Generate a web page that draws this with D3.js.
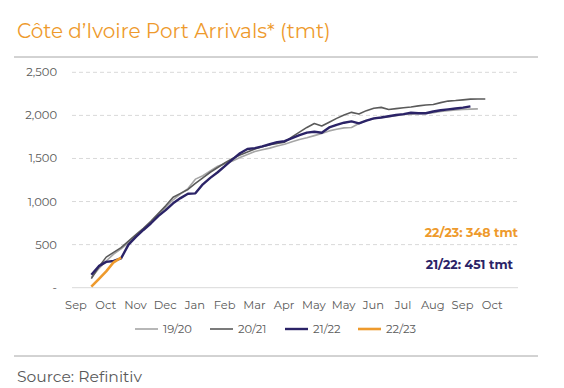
<!DOCTYPE html>
<html>
<head>
<meta charset="utf-8">
<script src="https://cdn.jsdelivr.net/npm/d3@7"></script>
<style>
  body { margin: 0; background: #fff; }
  text { font-family: Montserrat, "Open Sans", sans-serif; }
</style>
</head>
<body>
<svg id="svg" width="564" height="388"></svg>
<script>
// x-axis labels (one every 4 weeks)
const monthLabels = ["Sep", "Oct", "Nov", "Dec", "Jan", "Feb", "Mar", "Apr", "May", "May", "Jun", "Jul", "Aug", "Sep", "Oct"];
const yTicks = [0, 500, 1000, 1500, 2000, 2500];

// cumulative weekly arrivals, tmt
const s1920 = [120, 220, 310, 390, 450, 520, 600, 680, 760, 845, 930, 1020, 1090, 1150, 1260, 1300, 1355, 1410,
  1440, 1470, 1510, 1545, 1580, 1600, 1620, 1645, 1665, 1695, 1720, 1740, 1765, 1790, 1820, 1840, 1855, 1860,
  1905, 1940, 1960, 1975, 1985, 1995, 2010, 2015, 2020, 2023, 2030, 2045, 2053, 2062, 2070, 2073, 2075];
const s2021 = [105, 240, 355, 410, 465, 540, 615, 690, 770, 860, 950, 1050, 1095, 1140, 1210, 1275, 1340, 1395,
  1450, 1500, 1540, 1575, 1610, 1635, 1660, 1675, 1690, 1750, 1805, 1860, 1905, 1876, 1920, 1965, 2005, 2035,
  2015, 2055, 2083, 2093, 2069, 2078, 2088, 2098, 2110, 2120, 2127, 2148, 2166, 2172, 2180, 2189, 2190, 2190];
const s2122 = [150, 250, 300, 310, 340, 500, 590, 670, 745, 830, 900, 980, 1040, 1090, 1095, 1200, 1275, 1340,
  1415, 1490, 1560, 1610, 1620, 1640, 1665, 1690, 1700, 1735, 1770, 1800, 1810, 1798, 1860, 1890, 1915, 1930,
  1907, 1940, 1965, 1975, 1990, 2005, 2015, 2030, 2025, 2025, 2045, 2060, 2070, 2080, 2090, 2105];
const s2223 = [12, 100, 190, 295, 348];

const seriesNames = ["19/20", "20/21", "21/22", "22/23"];
const seriesData = [s1920, s2021, s2122, s2223];
const seriesColors = ["#a6a6a6", "#5a5a5a", "#2b2367", "#ee9a2c"];
const seriesWidths = [1.6, 1.6, 2.4, 2.6];

const annotations = [
  { text: "22/23: 348 tmt", color: "#ee9a2c", y: 237 },
  { text: "21/22: 451 tmt", color: "#2b2367", y: 269 }
];

const svg = d3.select("#svg");
const firstWeek = 2.6;

const x = d3.scaleLinear().domain([0, 60]).range([72, 518]);
const y = d3.scaleLinear().domain([0, 2500]).range([287.7, 72.3]);

// shrink/grow font so text spans target width
function fit(sel, width) {
  const w = sel.node().getComputedTextLength();
  const fs = parseFloat(sel.attr("font-size"));
  sel.attr("font-size", fs * width / w);
}

// title
svg.append("text")
  .attr("x", 17).attr("y", 37.5)
  .attr("font-size", 20)
  .attr("fill", "#ee9a2c")
  .text("Côte d\u2019Ivoire Port Arrivals* (tmt)")
  .call(fit, 314);

svg.append("line").attr("x1", 14).attr("x2", 538).attr("y1", 57).attr("y2", 57)
  .attr("stroke", "#a6a6a6").attr("stroke-width", 1);

// gridlines
svg.append("g")
  .selectAll("line")
  .data(yTicks.filter(d => d > 0))
  .join("line")
  .attr("x1", 72).attr("x2", 518)
  .attr("y1", d => y(d)).attr("y2", d => y(d))
  .attr("stroke", "#d9d9d9")
  .attr("stroke-dasharray", "4,3");

svg.append("line").attr("x1", 72).attr("x2", 518).attr("y1", y(0)).attr("y2", y(0))
  .attr("stroke", "#d9d9d9").attr("stroke-width", 1);

// y axis labels
svg.append("g")
  .selectAll("text")
  .data(yTicks)
  .join("text")
  .attr("x", 57)
  .attr("y", d => y(d) + 4)
  .attr("text-anchor", "end")
  .attr("font-size", 11.5)
  .attr("fill", "#595959")
  .text(d => d === 0 ? "-" : d3.format(",")(d));

// x axis labels
const xAxis = d3.axisBottom(x)
  .tickValues(d3.range(monthLabels.length).map(i => 0.47 + 4 * i))
  .tickFormat((d, i) => monthLabels[i])
  .tickSize(0)
  .tickPadding(0);

svg.append("g")
  .attr("transform", "translate(0,301)")
  .call(xAxis)
  .call(g => g.select(".domain").remove())
  .call(g => g.selectAll("text")
    .attr("font-size", 11.5)
    .attr("fill", "#595959")
    .attr("font-family", "Montserrat, 'Open Sans', sans-serif"));

// lines
const line = d3.line()
  .x((d, i) => x(firstWeek + i))
  .y(d => y(d));

svg.append("g")
  .selectAll("path")
  .data(seriesData)
  .join("path")
  .attr("d", d => line(d))
  .attr("fill", "none")
  .attr("stroke", (d, i) => seriesColors[i])
  .attr("stroke-width", (d, i) => seriesWidths[i])
  .attr("stroke-linejoin", "round");

// annotations
svg.append("g")
  .selectAll("text")
  .data(annotations)
  .join("text")
  .attr("x", (d, i) => i === 0 ? 518 : 513)
  .attr("y", d => d.y)
  .attr("text-anchor", "end")
  .attr("font-size", 12.5)
  .attr("font-weight", "bold")
  .attr("fill", d => d.color)
  .text(d => d.text);

// legend
const legendX = [135, 210, 285, 358];
const legend = svg.append("g")
  .selectAll("g")
  .data(seriesNames)
  .join("g")
  .attr("transform", (d, i) => `translate(${legendX[i]},329)`);

legend.append("line")
  .attr("x1", 0).attr("x2", 23)
  .attr("stroke", (d, i) => seriesColors[i])
  .attr("stroke-width", (d, i) => seriesWidths[i]);

legend.append("text")
  .attr("x", 28).attr("y", 4)
  .attr("font-size", 11.5)
  .attr("fill", "#595959")
  .text(d => d);

svg.append("line").attr("x1", 14).attr("x2", 538).attr("y1", 356).attr("y2", 356)
  .attr("stroke", "#a6a6a6").attr("stroke-width", 1);

svg.append("text")
  .attr("x", 17).attr("y", 382)
  .attr("font-size", 16)
  .attr("fill", "#595959")
  .text("Source: Refinitiv")
  .call(fit, 125);
</script>
</body>
</html>
